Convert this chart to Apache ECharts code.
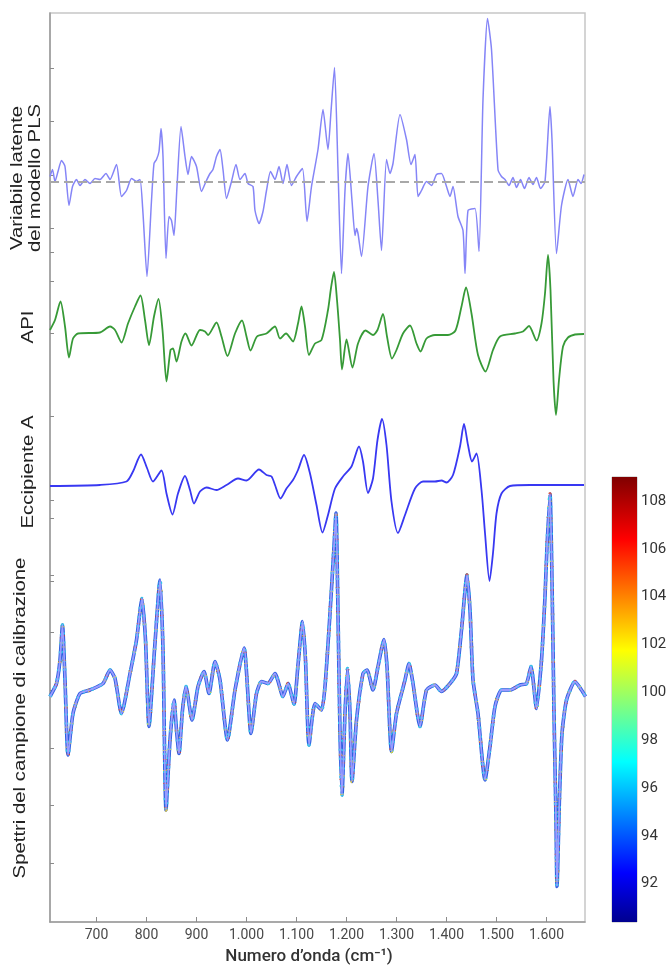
<!DOCTYPE html>
<html>
<head>
<meta charset="utf-8">
<title>PLS</title>
<script src="https://cdn.jsdelivr.net/npm/echarts@6/dist/echarts.min.js"></script>
<style>
  html, body { margin: 0; padding: 0; background: #fff; }
  #main { width: 670px; height: 970px; }
</style>
</head>
<body>
<div id="main"></div>
<script>
// numero d'onda (cm-1) / valore
const plsData = [[607,0.05],[612,0.12],[617,0],[623,0.1],[630,0.21],[637,0.15],[645,-0.24],[652,-0.05],[660,0.02],[667,-0.04],[677,0.02],[687,-0.02],[697,0.03],[707,0.02],[719,0.08],[727,0.02],[740,0.17],[750,-0.15],[760,-0.09],[770,0.03],[780,0],[787,0.02],[793,-0.32],[801,-0.95],[810,-0.19],[815,0.18],[820,0.22],[825,0.3],[829,0.53],[833,0.25],[839,-0.77],[845,-0.35],[850,-0.39],[855,-0.54],[861,-0.05],[869,0.55],[877,0.25],[883,0.07],[890,0.25],[900,0.15],[910,-0.1],[919,0],[927,0.08],[933,0.12],[940,0.25],[947,0.32],[953,0.12],[960,-0.17],[970,0],[979,0.17],[987,0.02],[997,0.08],[1003,-0.02],[1013,-0.05],[1017,-0.29],[1025,-0.42],[1033,-0.3],[1040,-0.09],[1048,0.1],[1057,0.02],[1065,0.15],[1073,-0.02],[1081,0.17],[1090,-0.04],[1100,0.05],[1112,0.13],[1121,-0.4],[1130,-0.05],[1143,0.32],[1153,0.72],[1163,0.32],[1169,0.7],[1176,1.14],[1183,0.12],[1190,-0.92],[1197,-0.09],[1203,0.28],[1211,-0.19],[1217,-0.54],[1220,-0.47],[1223,-0.52],[1230,-0.75],[1243,-0.05],[1255,0.28],[1263,-0.19],[1270,-0.69],[1280,0.22],[1287,0.08],[1293,0.18],[1307,0.67],[1320,0.42],[1329,0.17],[1337,0.27],[1343,-0.15],[1350,-0.09],[1360,0],[1370,-0.04],[1380,0.07],[1390,0.08],[1400,-0.05],[1407,-0.15],[1413,-0.05],[1423,-0.35],[1433,-0.49],[1437,-0.92],[1443,-0.29],[1457,-0.27],[1465,-0.7],[1473,0.82],[1482,1.63],[1490,1.32],[1503,0.12],[1510,0.05],[1517,0.02],[1525,-0.04],[1533,0.04],[1540,-0.06],[1548,0.02],[1556,-0.07],[1565,0.04],[1573,-0.03],[1580,0.04],[1588,-0.07],[1597,0],[1607,0.75],[1611,0.42],[1620,-0.72],[1630,-0.24],[1643,0.02],[1653,-0.15],[1663,0.02],[1669,-0.02],[1675,0.07]]

const apiData = [[607,0.035],[617,0.135],[628,0.32],[637,0.07],[645,-0.24],[653,-0.05],[663,0],[707,0.01],[727,0.07],[737,0.035],[750,-0.09],[763,0.1],[777,0.27],[788,0.38],[797,0.135],[805,-0.115],[815,0.17],[824,0.345],[832,0.035],[840,-0.48],[848,-0.165],[853,-0.15],[860,-0.28],[870,-0.08],[878,0],[890,-0.12],[907,0.035],[917,0.02],[923,-0.015],[940,0.11],[950,-0.03],[962,-0.225],[977,0],[991,0.13],[1000,-0.03],[1008,-0.17],[1021,-0.03],[1040,0],[1057,0.07],[1067,-0.05],[1079,0],[1093,-0.08],[1103,0.1],[1110,0.27],[1117,0.07],[1125,-0.215],[1137,-0.1],[1150,-0.065],[1163,0.235],[1169,0.455],[1175,0.615],[1181,0.335],[1187,-0.065],[1191,-0.36],[1200,-0.06],[1212,-0.34],[1223,-0.1],[1238,0.03],[1253,-0.015],[1262,0.035],[1273,0.195],[1281,-0.03],[1291,-0.25],[1300,-0.165],[1313,0],[1327,0.08],[1340,-0.1],[1348,-0.18],[1360,-0.05],[1377,-0.015],[1403,-0.015],[1418,0.03],[1430,0.27],[1439,0.46],[1450,0.2],[1463,-0.215],[1478,-0.38],[1493,-0.165],[1507,-0.03],[1537,0],[1553,0.02],[1565,0.075],[1580,-0.07],[1590,0.1],[1597,0.4],[1603,0.785],[1608,0.435],[1614,-0.465],[1619,-0.815],[1625,-0.465],[1633,-0.13],[1643,-0.04],[1657,-0.01],[1675,-0.005]]

const eccData = [[607,-0.01],[707,0],[760,0.035],[773,0.135],[789,0.305],[801,0.17],[813,0.035],[830,0.145],[840,-0.085],[852,-0.295],[863,-0.085],[877,0.09],[887,-0.05],[895,-0.185],[907,-0.065],[920,-0.025],[940,-0.05],[960,0],[983,0.065],[1000,0.045],[1025,0.155],[1040,0.1],[1050,0.085],[1057,0],[1068,-0.135],[1080,-0.035],[1093,0.05],[1103,0.15],[1115,0.3],[1127,0.115],[1140,-0.2],[1152,-0.475],[1163,-0.3],[1177,-0.035],[1193,0.085],[1210,0.185],[1225,0.385],[1233,0.235],[1243,-0.08],[1253,0.065],[1262,0.45],[1271,0.66],[1280,0.4],[1290,-0.165],[1303,-0.48],[1317,-0.3],[1337,-0.035],[1353,0.035],[1377,0.035],[1390,0.045],[1400,0.025],[1413,0.1],[1427,0.385],[1435,0.61],[1443,0.4],[1451,0.235],[1460,0.315],[1470,-0.05],[1477,-0.48],[1486,-0.96],[1493,-0.68],[1500,-0.285],[1510,-0.085],[1527,-0.01],[1567,0],[1675,0]]

const spettriData = [[607,0.035],[620,0.165],[627,0.4],[632,0.75],[637,0.2],[643,-0.55],[653,-0.135],[667,0.065],[687,0.1],[713,0.165],[727,0.3],[737,0.215],[750,-0.135],[767,0.265],[780,0.6],[791,1.015],[798,0.6],[805,-0.265],[816,0.5],[827,1.2],[833,0.5],[839,-1.1],[847,-0.4],[855,0],[860,-0.3],[865,-0.535],[872,-0.1],[879,0.135],[891,-0.2],[903,0.135],[915,0.285],[925,0.065],[937,0.385],[947,0.2],[962,-0.4],[977,0.1],[995,0.52],[1009,-0.335],[1020,0.065],[1030,0.185],[1043,0.165],[1057,0.265],[1073,0.035],[1083,0.165],[1095,-0.04],[1103,0.35],[1112,0.785],[1118,0.4],[1125,-0.45],[1137,-0.035],[1150,-0.1],[1157,0.135],[1167,0.865],[1175,1.535],[1179,1.87],[1183,0.865],[1187,-0.33],[1191,-0.95],[1197,-0.13],[1202,0.315],[1207,-0.13],[1211,-0.815],[1220,-0.2],[1233,0.265],[1241,0.3],[1253,0.1],[1263,0.335],[1275,0.605],[1281,0.335],[1290,-0.515],[1300,-0.135],[1317,0.2],[1325,0.365],[1333,0.165],[1347,-0.265],[1360,0.1],[1377,0.15],[1390,0.085],[1407,0.165],[1420,0.265],[1430,0.7],[1441,1.25],[1447,0.9],[1453,0.2],[1463,-0.135],[1477,-0.8],[1487,-0.465],[1497,-0.065],[1510,0.1],[1527,0.1],[1547,0.15],[1560,0.165],[1569,0.335],[1580,-0.085],[1590,0.4],[1597,1.035],[1601,1.535],[1607,2.06],[1611,1.2],[1615,-0.13],[1619,-1.2],[1621,-1.865],[1626,-0.97],[1631,-0.335],[1640,0],[1657,0.185],[1670,0.1],[1678,0.035]]

const xTicks = [700, 800, 900, 1000, 1100, 1200, 1300, 1400, 1500, 1600]
// tacche interne dei quattro pannelli
const plsTicks = [1.13, 0.6, 0.065, -0.47, -1.0]
const apiTicks = [0.81, 0, -0.83, -1.665]
const eccTicks = [-0.333, -0.967]
const spettriTicks = [1.25, 0.674, 0.098, -0.478, -1.054, -1.63]

const colorbarTicks = [92, 94, 96, 98, 100, 102, 104, 106, 108]
const colorbarRange = [90.4, 109]

const chart = echarts.init(document.getElementById('main'))

function fmtWave (v) {
  if (v < 1000) return String(v)
  return Math.floor(v / 1000) + '.' + String(v % 1000).padStart(3, '0')
}

function panelAxis (min, max, ticks, showLine) {
  return {
    type: 'value',
    gridIndex: 0,
    position: 'left',
    min: min,
    max: max,
    axisLine: {show: showLine, lineStyle: {color: '#9a9a9a', width: 1.5}},
    axisTick: {show: true, inside: true, length: 4, customValues: ticks, lineStyle: {color: '#8a8a8a'}},
    axisLabel: {show: false},
    splitLine: {show: false}
  }
}

function yTitle (text, x, y) {
  return {
    type: 'text',
    x: x,
    y: y,
    rotation: Math.PI / 2,
    scaleX: 1.27,
    silent: true,
    style: {
      text: text,
      fontSize: 16,
      fontFamily: 'Liberation Sans, Arial, sans-serif',
      lineHeight: 18,
      fill: '#222',
      align: 'center',
      verticalAlign: 'middle'
    }
  }
}

const jet = new echarts.graphic.LinearGradient(0, 1, 0, 0, [
  {offset: 0, color: '#00008f'},
  {offset: 0.11, color: '#0000ff'},
  {offset: 0.36, color: '#00ffff'},
  {offset: 0.61, color: '#ffff00'},
  {offset: 0.86, color: '#ff0000'},
  {offset: 1, color: '#800000'}
])

function spettriLayer (color, width, dash, offset, z) {
  return {
    type: 'line',
    xAxisIndex: 0,
    yAxisIndex: 3,
    data: spettriData,
    showSymbol: false,
    smooth: 0.2,
    z: z,
    lineStyle: {color: color, width: width, type: dash, dashOffset: offset}
  }
}

const option = {
  animation: false,
  backgroundColor: '#fff',
  grid: [
    {left: 50, right: 85, top: 13, bottom: 48, show: true, borderColor: '#c6c6c6', borderWidth: 1.5},
    {left: 612, width: 25, top: 477, height: 445, show: true, borderColor: '#b8b8b8', borderWidth: 1}
  ],
  xAxis: [
    {
      type: 'value',
      gridIndex: 0,
      min: 607,
      max: 1677,
      axisLine: {show: true, onZero: false, lineStyle: {color: '#9a9a9a', width: 1.5}},
      axisTick: {show: true, inside: true, length: 5, customValues: xTicks, lineStyle: {color: '#8a8a8a'}},
      axisLabel: {customValues: xTicks, formatter: fmtWave, color: '#4a4a4a', fontSize: 14, fontFamily: 'Roboto, sans-serif', margin: 6},
      splitLine: {show: false},
      name: 'Numero d\u2019onda (cm\u207b\u00b9)',
      nameLocation: 'middle',
      nameGap: 26,
      nameTextStyle: {color: '#333', fontSize: 17, fontWeight: 500, fontFamily: 'Roboto, sans-serif', padding: [0, 17, 0, 0]}
    },
    {type: 'category', gridIndex: 1, data: [''], show: false}
  ],
  yAxis: [
    panelAxis(-7.405, 1.685, plsTicks, true),
    panelAxis(-5.885, 3.205, apiTicks, false),
    panelAxis(-4.37, 4.72, eccTicks, false),
    panelAxis(-2.22, 6.87, spettriTicks, false),
    {
      type: 'value',
      gridIndex: 1,
      position: 'right',
      min: colorbarRange[0],
      max: colorbarRange[1],
      axisLine: {show: false},
      axisTick: {show: true, inside: true, length: 4, customValues: colorbarTicks, lineStyle: {color: '#333'}},
      axisLabel: {customValues: colorbarTicks, color: '#333', fontSize: 15, fontFamily: 'Roboto, sans-serif', margin: 4},
      splitLine: {show: false}
    },
    {
      type: 'value',
      gridIndex: 1,
      position: 'left',
      min: colorbarRange[0],
      max: colorbarRange[1],
      axisLine: {show: false},
      axisTick: {show: true, inside: true, length: 4, customValues: colorbarTicks, lineStyle: {color: '#333'}},
      axisLabel: {show: false},
      splitLine: {show: false}
    }
  ],
  graphic: [
    yTitle('Variabile latente\ndel modello PLS', 27, 178),
    yTitle('API', 29, 327),
    yTitle('Eccipiente A', 29, 472),
    yTitle('Spettri del campione di calibrazione', 21, 718)
  ],
  series: [
    {
      name: 'Variabile latente',
      type: 'line',
      xAxisIndex: 0,
      yAxisIndex: 0,
      data: plsData,
      showSymbol: false,
      smooth: 0.2,
      lineStyle: {color: '#8585f7', width: 1.5},
      markLine: {
        silent: true,
        symbol: 'none',
        label: {show: false},
        lineStyle: {color: '#a8a8a8', width: 1.8, type: [9, 5]},
        data: [{yAxis: 0}]
      }
    },
    {
      name: 'API',
      type: 'line',
      xAxisIndex: 0,
      yAxisIndex: 1,
      data: apiData,
      showSymbol: false,
      smooth: 0.25,
      lineStyle: {color: '#379a37', width: 1.8}
    },
    {
      name: 'Eccipiente A',
      type: 'line',
      xAxisIndex: 0,
      yAxisIndex: 2,
      data: eccData,
      showSymbol: false,
      smooth: 0.25,
      lineStyle: {color: '#3838f2', width: 1.8}
    },
    // fascio di spettri: strati colorati sotto la linea chiara
    spettriLayer('#2f5fe0', 3.6, 'solid', 0, 2),
    spettriLayer('#2cc8e6', 3.6, [2, 7], 0, 3),
    spettriLayer('#e6cf2a', 3.4, [1, 19], 5, 4),
    spettriLayer('#d8452a', 3.4, [1, 23], 12, 5),
    spettriLayer('#9a9cff', 1.8, 'solid', 0, 6),
    {
      name: 'colorbar',
      type: 'bar',
      xAxisIndex: 1,
      yAxisIndex: 4,
      data: [colorbarRange[1]],
      barWidth: '100%',
      silent: true,
      itemStyle: {color: jet}
    }
  ]
}

chart.setOption(option)
</script>
</body>
</html>
